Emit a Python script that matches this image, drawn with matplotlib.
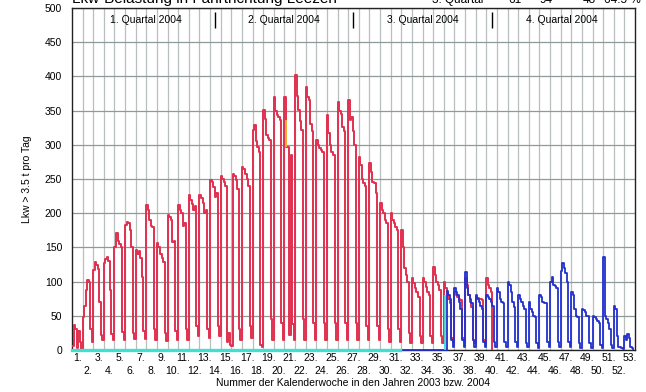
#! /usr/bin/python
## Lkw-Belastung: daily truck counts per calendar week, 2004 (red) and 2003 (blue)

import numpy
import matplotlib
matplotlib.use('Agg')
import matplotlib.pyplot as plt

plt.rcParams['font.family'] = ['Liberation Sans', 'DejaVu Sans']

# 2004, Mon..Sun per calendar week, from day 0 (week 1) to end of 3. Quartal
red_2004 = [
    6, 36, 30, 3, 28, 12, 2,            # 1
    48, 64, 88, 103, 100, 30, 12,       # 2
    117, 128, 125, 118, 70, 22, 14,     # 3
    127, 133, 136, 130, 88, 24, 15,     # 4
    150, 171, 160, 155, 150, 27, 14,    # 5
    183, 187, 186, 176, 150, 25, 16,    # 6
    146, 140, 145, 135, 107, 28, 16,    # 7
    212, 205, 190, 181, 180, 30, 15,    # 8
    156, 150, 140, 135, 128, 25, 13,    # 9
    198, 195, 190, 158, 160, 28, 14,    # 10
    212, 205, 200, 182, 185, 30, 15,    # 11
    226, 220, 213, 205, 210, 35, 20,    # 12
    226, 222, 215, 200, 205, 30, 18,    # 13
    248, 245, 238, 224, 230, 35, 20,    # 14
    255, 250, 245, 240, 12, 25, 8,      # 15
    6, 258, 255, 248, 235, 30, 15,      # 16
    268, 265, 258, 250, 240, 35, 18,    # 17
    322, 329, 305, 297, 290, 8, 5,      # 18
    351, 338, 314, 310, 307, 45, 15,    # 19
    370, 350, 343, 340, 336, 40, 15,    # 20
    370, 297, 297, 22, 285, 38, 14,     # 21
    402, 372, 351, 335, 322, 45, 15,    # 22
    385, 370, 365, 330, 320, 40, 15,    # 23
    307, 300, 295, 292, 290, 40, 15,    # 24
    343, 317, 300, 290, 285, 40, 15,    # 25
    363, 350, 345, 326, 320, 40, 15,    # 26
    365, 336, 340, 320, 300, 40, 15,    # 27
    282, 270, 250, 244, 240, 35, 15,    # 28
    273, 260, 246, 244, 230, 35, 15,    # 29
    215, 205, 200, 190, 185, 30, 12,    # 30
    200, 190, 185, 180, 175, 30, 12,    # 31
    175, 150, 120, 110, 100, 25, 10,    # 32
    105, 98, 90, 85, 78, 20, 10,        # 33
    105, 100, 92, 85, 80, 20, 10,       # 34
    121, 110, 100, 95, 88, 20, 10,      # 35
    99, 90, 85, 75, 69, 18, 12,         # 36
    85, 80, 78, 75, 73, 18, 12,         # 37
    105, 95, 80, 70, 63, 15, 10,        # 38
    78, 76, 75, 74, 73, 15, 10,         # 39
    105, 95, 90, 85, 0,                 # 40 (until 30.09.)
]

# 2003, starting at day 216 (zero until data begins in week 36)
blue_start = 216
blue_2003 = [
    0,                                  # 31
    0, 0, 0, 0, 0, 0, 0,                # 32
    0, 0, 0, 0, 0, 0, 0,                # 33
    0, 0, 0, 0, 0, 0, 0,                # 34
    0, 0, 0, 0, 0, 0, 0,                # 35
    0, 0, 86, 80, 75, 15, 5,            # 36
    90, 85, 80, 70, 60, 15, 5,          # 37
    114, 90, 80, 75, 68, 15, 5,         # 38
    80, 75, 70, 65, 60, 12, 5,          # 39
    80, 78, 75, 70, 65, 12, 5,          # 40
    90, 85, 75, 70, 68, 12, 5,          # 41
    99, 95, 85, 70, 63, 12, 5,          # 42
    80, 75, 70, 65, 60, 10, 4,          # 43
    70, 60, 55, 50, 48, 10, 3,          # 44
    80, 78, 70, 68, 68, 12, 4,          # 45
    100, 107, 95, 93, 90, 12, 4,        # 46
    115, 127, 120, 112, 100, 12, 4,     # 47
    85, 80, 60, 50, 48, 10, 3,          # 48
    60, 58, 55, 50, 50, 10, 3,          # 49
    50, 48, 45, 42, 40, 8, 3,           # 50
    136, 50, 45, 40, 30, 8, 3,          # 51
    65, 60, 20, 5, 5, 3, 2,             # 52
    20, 15, 24, 18, 5, 3, 2,            # 53
]

# third series, only visible as zero line and one step
cyan_days = [0, 216]
cyan_step_day = 246
cyan_step = [0, 80]

# single marked day (yellow)
yellow_day = 141
yellow_range = [297, 336]

weeks = numpy.arange(1, 54)
quarter_ends = [94, 185, 277]
quarter_mids = [48.5, 139.5, 231, 323]
quarter_labels = ['1. Quartal 2004', '2. Quartal 2004', '3. Quartal 2004', '4. Quartal 2004']

title_text = 'Lkw-Belastung in Fahrtrichtung Leezen'
table_cells = ['3. Quartal', '61', '94', '48', '64.5 %']
table_x = [432, 508, 540, 583, 604]

fig = plt.figure(figsize=(6.46, 3.92), dpi=100)
ax = fig.add_axes([72 / 646., 1 - 350 / 392., 563 / 646., 342 / 392.])

# grid: weeks (vertical) and 50 steps (horizontal)
ax.set_xticks(numpy.arange(7, 371, 7), minor=True)
ax.grid(which='minor', axis='x', color='#b9bebe', lw=0.9)
ax.grid(which='major', axis='y', color='#8f9a9a', lw=0.9)
ax.set_axisbelow(True)

red_x = numpy.arange(len(red_2004))
ax.plot(red_x, red_2004, drawstyle='steps-post', color='#e0304f', lw=1.4, zorder=3)
blue_x = blue_start + numpy.arange(len(blue_2003))
ax.plot(blue_x, blue_2003, drawstyle='steps-post', color='#2230cc', lw=1.3,
        zorder=4, clip_on=False)
ax.plot(cyan_days, [0, 0], color='#3fe0cf', lw=2.4, zorder=5, clip_on=False)
ax.vlines(cyan_step_day, cyan_step[0], cyan_step[1], color='#3fe0cf', lw=1.3, zorder=5)
ax.vlines(yellow_day, yellow_range[0], yellow_range[1], color='#f2c531', lw=1.2, zorder=5)

# quarter markers and labels
ax.vlines(quarter_ends, 471, 494, color='black', lw=1.0, zorder=6)
for xm, lab in zip(quarter_mids, quarter_labels):
    ax.text(xm, 482, lab, ha='center', va='center', fontsize=7.5)

ax.set_xlim(0, 371)
ax.set_ylim(0, 500)
ax.set_yticks(numpy.arange(0, 501, 50))
# odd weeks on the first row as tick labels, even weeks on a second row
ax.set_xticks(weeks * 7 - 3.5)
ax.set_xticklabels(['%d.' % w if w % 2 else '' for w in weeks])
for w in weeks[1::2]:
    ax.annotate('%d.' % w, xy=(w * 7 - 3.5, 0), xycoords=('data', 'axes fraction'),
                xytext=(0, -11.5), textcoords='offset points',
                ha='center', va='top', fontsize=7.5)
ax.tick_params(which='both', length=0, labelsize=7.5)
ax.tick_params(axis='x', pad=2)
ax.tick_params(axis='y', pad=7)
for s in ax.spines.values():
    s.set_color('#222222')
    s.set_linewidth(1.0)

ax.set_ylabel('Lkw > 3.5 t pro Tag', fontsize=7.5, labelpad=9)
ax.set_xlabel('Nummer der Kalenderwoche in den Jahren 2003 bzw. 2004', fontsize=7.5, labelpad=11)

# header line, cut at the top edge of the picture
fig.text(72 / 646., 1 - 3 / 392., title_text, fontsize=11, va='baseline', ha='left')
for xt, cell in zip(table_x, table_cells):
    fig.text(xt / 646., 1 - 3 / 392., cell, fontsize=8.5, va='baseline', ha='left')

plt.savefig('out.png', dpi=100)
